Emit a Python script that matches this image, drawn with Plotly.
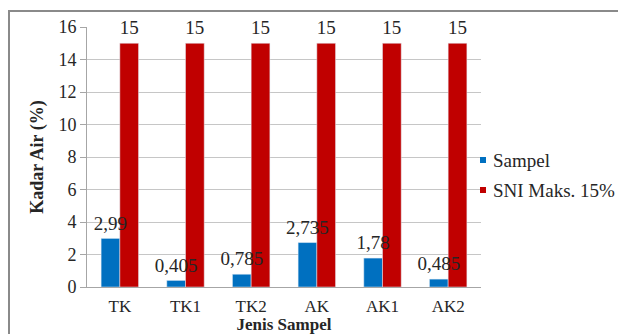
import plotly.graph_objects as go

categories = ["TK", "TK1", "TK2", "AK", "AK1", "AK2"]
sampel = [2.99, 0.405, 0.785, 2.735, 1.78, 0.485]
sni = [15, 15, 15, 15, 15, 15]
series_names = ["Sampel", "SNI Maks. 15%"]
label_sampel = ["2,99", "0,405", "0,785", "2,735", "1,78", "0,485"]
label_sni = ["15"] * 6
y_ticks = [0, 2, 4, 6, 8, 10, 12, 14, 16]

BLUE = "#0070C0"
RED = "#C00000"
FONT = "Liberation Serif, Times New Roman, DejaVu Serif, serif"
TXT = "#262626"
# page has an 8px body margin: figure occupies page pixels 8..626, 8..334
OFF = 8
W, H = 626 - OFF, 334 - OFF
L, T = 87 - OFF, 27 - OFF
R = W - (481 - OFF)
B = H - (287 - OFF)
PW, PH = W - L - R, H - T - B


def px(x):
    return (x - OFF - L) / PW


def py(y):
    return (H - B - (y - OFF)) / PH


fig = go.Figure()
fig.add_trace(go.Bar(x=categories, y=sampel, name=series_names[0], marker_color=BLUE,
                     offsetgroup="a", showlegend=False))
fig.add_trace(go.Bar(x=categories, y=sni, name=series_names[1], marker_color=RED,
                     offsetgroup="b", showlegend=False))
for vals, labs, grp in ((sampel, label_sampel, "a"), (sni, label_sni, "b")):
    fig.add_trace(go.Scatter(x=categories, y=vals, mode="markers+text", text=labs,
                             textposition="top center", showlegend=False, offsetgroup=grp,
                             marker=dict(size=5, opacity=0),
                             textfont=dict(family=FONT, size=19, color=TXT), cliponaxis=False,
                             hoverinfo="skip"))

shapes = [
    dict(type="line", xref="paper", yref="paper", x0=px(8), x1=px(700), y0=py(11), y1=py(11),
         line=dict(color="#8a8a8a", width=2)),
    dict(type="line", xref="paper", yref="paper", x0=px(9), x1=px(9), y0=py(11), y1=py(340),
         line=dict(color="#8a8a8a", width=2)),
    dict(type="rect", xref="paper", yref="paper", x0=px(480), x1=px(486), y0=py(163), y1=py(157),
         fillcolor=BLUE, line=dict(width=0)),
    dict(type="rect", xref="paper", yref="paper", x0=px(480), x1=px(486), y0=py(193), y1=py(187),
         fillcolor=RED, line=dict(width=0)),
]
annotations = [
    dict(xref="paper", yref="paper", x=px(491), y=py(160), text=series_names[0], showarrow=False,
         xanchor="left", yanchor="middle", font=dict(family=FONT, size=19, color=TXT)),
    dict(xref="paper", yref="paper", x=px(491), y=py(190), text=series_names[1], showarrow=False,
         xanchor="left", yanchor="middle", font=dict(family=FONT, size=19, color=TXT)),
]

fig.update_layout(
    width=W, height=H,
    margin=dict(l=L, r=R, t=T, b=B, autoexpand=False),
    paper_bgcolor="white", plot_bgcolor="white",
    barmode="group", bargap=0.43, bargroupgap=0,
    scattermode="group", scattergap=0.43,
    showlegend=False,
    shapes=shapes, annotations=annotations,
    font=dict(family=FONT, color=TXT),
)
fig.update_yaxes(range=[0, 16], tickvals=y_ticks, showgrid=True, gridcolor="#c6c6c6", gridwidth=1,
                 showline=True, linecolor="#a6a6a6", ticks="outside", ticklen=6, tickcolor="#a6a6a6",
                 tickfont=dict(family=FONT, size=18, color=TXT), zeroline=False, automargin=False,
                 title=dict(text="<b>Kadar Air (%)</b>", font=dict(family=FONT, size=18, color=TXT),
                            standoff=10))
fig.update_xaxes(showline=True, linecolor="#a6a6a6", ticks="", showgrid=False, automargin=False,
                 tickfont=dict(family=FONT, size=17, color=TXT), ticklabelstandoff=4,
                 title=dict(text="<b>Jenis Sampel</b>", font=dict(family=FONT, size=17, color=TXT),
                            standoff=3))

fig.write_html("out.html")
